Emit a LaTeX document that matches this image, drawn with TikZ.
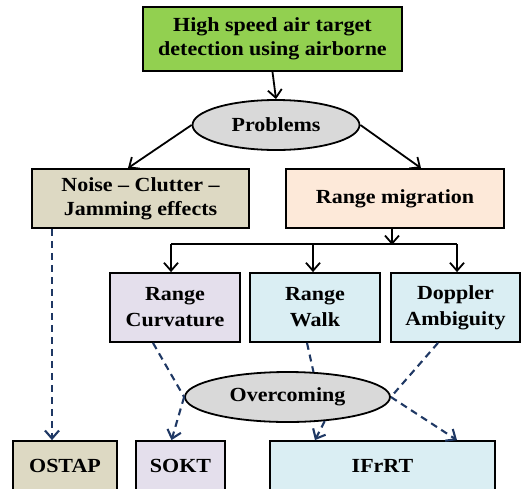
\documentclass[tikz,border=0pt]{standalone}
\usepackage{fontspec}
\setmainfont[FakeStretch=1.1]{Liberation Serif}
\usepackage{tikz}
\usetikzlibrary{arrows.meta,shapes.geometric}

\definecolor{goalgreen}{HTML}{92D050}
\definecolor{ovalgray}{HTML}{D9D9D9}
\definecolor{noisetan}{HTML}{DDD9C3}
\definecolor{migrpeach}{HTML}{FDE9D9}
\definecolor{curvlilac}{HTML}{E4DFEC}
\definecolor{walkblue}{HTML}{DAEEF3}
\definecolor{dashnavy}{RGB}{31,56,100}

\begin{document}
\begin{tikzpicture}[x=1pt, y=-1pt,
    box/.style={draw, line width=1.8pt, inner sep=0pt, align=center,
        font=\bfseries\fontsize{20}{24}\selectfont},
    oval/.style={ellipse, draw, line width=1.8pt, fill=ovalgray, inner sep=0pt,
        font=\bfseries\fontsize{20}{24}\selectfont},
    link/.style={-{Straight Barb[length=8pt,width=14pt]}, line width=1.8pt},
    dline/.style={line width=2.1pt, dashnavy, dash pattern=on 7pt off 5pt},
    dlink/.style={dline, -{Straight Barb[length=8pt,width=14pt]}}]
    \useasboundingbox (0,0) rectangle (524,488);

    % Goal and problems
    \node[box, fill=goalgreen, minimum width=259pt, minimum height=64pt] (goal) at (272.5,39)
        {High speed air target\\detection using airborne};
    \node[oval, minimum width=167pt, minimum height=50pt] (prob) at (276,125) {Problems};

    % Problem groups
    \node[box, fill=noisetan, minimum width=217pt, minimum height=59pt] (noise) at (140.5,198.5)
        {Noise -- Clutter --\\Jamming effects};
    \node[box, fill=migrpeach, minimum width=218pt, minimum height=59pt] (migr) at (395,198.5)
        {Range migration};

    % Range migration effects
    \node[box, fill=curvlilac, minimum width=130pt, minimum height=69pt, font=\bfseries\fontsize{20}{26}\selectfont] (curv) at (175,307.5)
        {Range\\Curvature};
    \node[box, fill=walkblue, minimum width=130pt, minimum height=69pt, font=\bfseries\fontsize{20}{26}\selectfont] (walk) at (315,307.5)
        {Range\\Walk};
    \node[box, fill=walkblue, minimum width=129pt, minimum height=69pt, font=\bfseries\fontsize{20}{26}\selectfont] (dopp) at (455.5,307.5)
        {Doppler\\Ambiguity};

    % Overcoming and methods
    \node[oval, minimum width=205pt, minimum height=50pt] (over) at (287.5,397) {Overcoming};
    \node[box, fill=noisetan, minimum width=104pt, minimum height=50pt] (ostap) at (65,466) {OSTAP};
    \node[box, fill=curvlilac, minimum width=89pt, minimum height=50pt] (sokt) at (180.5,466) {SOKT};
    \node[box, fill=walkblue, minimum width=225pt, minimum height=50pt] (ifrrt) at (382.5,466) {IFrRT};

    % Solid arrows
    \draw[link] (goal.south) -- (prob.north);
    \draw[link] (prob.west) -- ([xshift=-12.5pt]noise.north);
    \draw[link] (prob.east) -- ([xshift=26pt]migr.north);

    % Fork under range migration
    \coordinate (fork) at (313,244);
    \draw[link] ([xshift=-3pt]migr.south) -- ++(0,16);
    \draw[line width=1.8pt] ([xshift=-4pt]curv.north |- fork) -- ([xshift=1.5pt]dopp.north |- fork);
    \draw[link] ([xshift=-4pt]curv.north |- fork) -- ([xshift=-4pt]curv.north);
    \draw[link] ([xshift=-2pt]walk.north |- fork) -- ([xshift=-2pt]walk.north);
    \draw[link] ([xshift=1.5pt]dopp.north |- fork) -- ([xshift=1.5pt]dopp.north);

    % Dashed links
    \draw[dlink] ([xshift=-13pt]ostap.north |- noise.south) -- ([xshift=-13pt]ostap.north);
    \draw[dline] ([xshift=-22pt]curv.south) -- (over.west);
    \draw[dline] ([xshift=-8pt]walk.south) -- (over.44);
    \draw[dline] ([xshift=-17.5pt]dopp.south) -- (over.east);
    \draw[dlink] (over.west) -- ([xshift=-9pt]sokt.north);
    \draw[dlink] (over.327) -- ([xshift=-67.5pt]ifrrt.north);
    \draw[dlink] (over.east) -- ([xshift=74.5pt]ifrrt.north);
\end{tikzpicture}
\end{document}
